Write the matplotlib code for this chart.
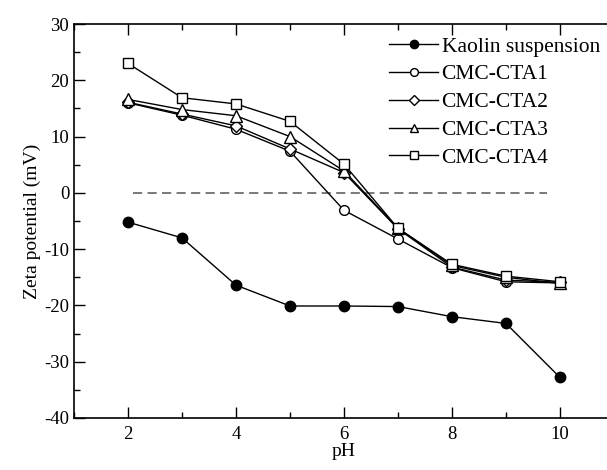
import matplotlib
matplotlib.use("Agg")
import matplotlib.pyplot as plt
from matplotlib.ticker import MultipleLocator

plt.rcParams['font.family'] = ['Liberation Serif', 'DejaVu Serif']
plt.rcParams['axes.unicode_minus'] = False

ph = [2, 3, 4, 5, 6, 7, 8, 9, 10]
kaolin = [-5.2, -8.0, -16.4, -20.1, -20.1, -20.2, -22.0, -23.2, -32.8]
cta1 = [16.0, 13.8, 11.3, 7.4, -3.1, -8.2, -13.3, -15.8, -16.0]
cta2 = [16.1, 14.0, 11.9, 7.8, 3.6, -6.4, -13.2, -15.5, -15.9]
cta3 = [16.6, 14.8, 13.7, 10.0, 3.9, -6.3, -12.9, -15.0, -16.1]
cta4 = [23.0, 16.9, 15.8, 12.7, 5.1, -6.3, -12.7, -14.8, -15.8]

fig = plt.figure(figsize=(6.07, 4.70), dpi=100)
# axes run past the right edge of the picture like in the original
ax = fig.add_axes([74 / 607, (470 - 418) / 470, 540 / 607, 394 / 470])

ax.plot([2.1, 9.75], [0, 0], ls=(0, (6, 3.5)), color='#555555', lw=1.1)

ax.plot(ph, kaolin, '-o', color='black', mfc='black', ms=7.5, lw=1, label='Kaolin suspension')
ax.plot(ph, cta1, '-o', color='black', mfc='white', ms=7, mew=1, lw=1, label='CMC-CTA1')
ax.plot(ph, cta2, '-D', color='black', mfc='white', ms=6, mew=1, lw=1, label='CMC-CTA2')
ax.plot(ph, cta3, '-^', color='black', mfc='white', ms=8, mew=1, lw=1, label='CMC-CTA3')
ax.plot(ph, cta4, '-s', color='black', mfc='white', ms=6.8, mew=1, lw=1, label='CMC-CTA4')

ax.set_xlim(1, 11)
ax.set_ylim(-40, 30)
ax.xaxis.set_major_locator(MultipleLocator(2))
ax.xaxis.set_minor_locator(MultipleLocator(1))
ax.yaxis.set_major_locator(MultipleLocator(10))
ax.yaxis.set_minor_locator(MultipleLocator(5))
ax.tick_params(which='both', direction='in', top=True, right=False, labelsize=13.5, width=1)
ax.tick_params(which='major', length=8)
ax.tick_params(which='minor', length=4)
ax.tick_params(axis='x', pad=6)
for s in ax.spines.values():
    s.set_linewidth(1.2)

ax.set_xlabel('pH', fontsize=14, labelpad=0)
ax.set_ylabel('Zeta potential (mV)', fontsize=14, labelpad=2)

leg = ax.legend(loc='upper left', bbox_to_anchor=(0.567, 0.99), frameon=False, fontsize=15.5,
                markerscale=0.8, handlelength=2.3, handletextpad=0.15, labelspacing=0.36,
                borderaxespad=0)

fig.savefig('out.png', dpi=100)
